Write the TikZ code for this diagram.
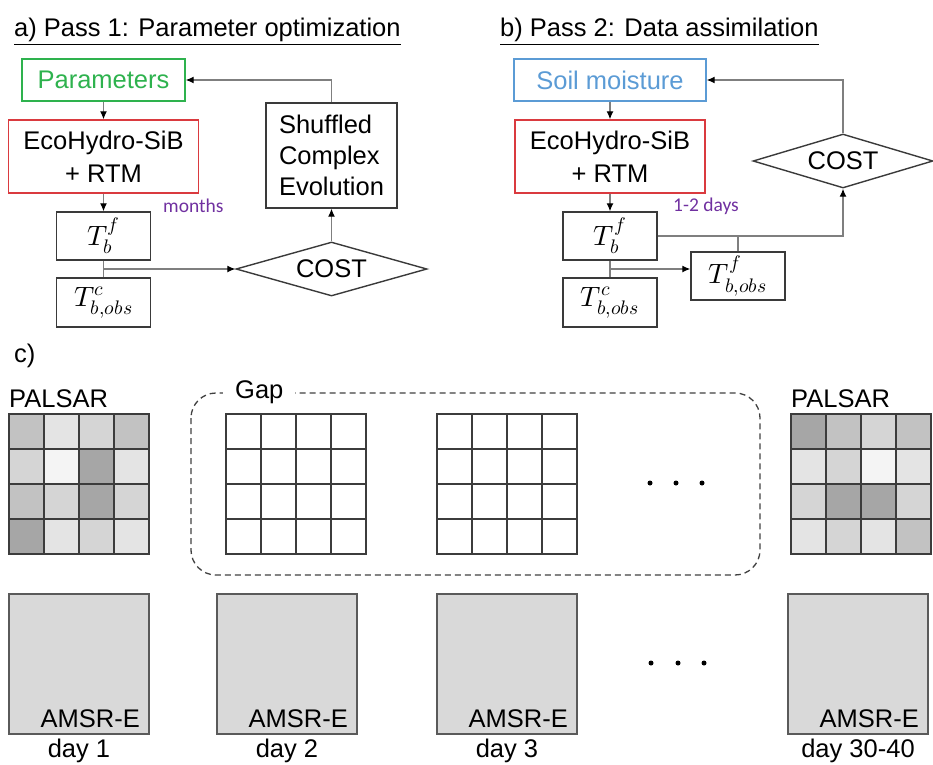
\documentclass[tikz,border=0pt]{standalone}
\usepackage{fontspec}
\usepackage{unicode-math}
\setmainfont{Liberation Sans}
\setmathfont{Latin Modern Math}
\newfontfamily\calfont{Carlito}
\usetikzlibrary{shapes.geometric,arrows.meta}
\begin{document}
\begin{tikzpicture}[x=1pt,y=-1pt,
  txt/.style={font=\fontsize{25.5}{33}\selectfont},
  lab/.style={txt,inner sep=0pt},
  box/.style={draw=boxline,line width=1.4pt,inner sep=0pt,txt},
  mathbox/.style={box,minimum width=94pt,font=\fontsize{28}{31}\selectfont},
  costnode/.style={draw=boxline,line width=1.4pt,shape=diamond,aspect=3.5,inner sep=0pt,
    minimum width=191pt,minimum height=54pt,txt},
  link/.style={draw=linkgray,line width=1.2pt,-{Latex[length=8pt,width=7pt,color=black]}},
  plain/.style={draw=linkgray,line width=1.2pt},
  note/.style={font=\calfont\fontsize{19.5}{23}\selectfont,text=notepurple,inner sep=0pt,anchor=base west},
  cell/.style={draw=gridline,line width=1.2pt},
  gapframe/.style={draw=gapdash,line width=1.3pt,dash pattern=on 6pt off 4pt,rounded corners=25pt},
  amsrbox/.style={draw=amsrline,line width=1.3pt,fill=amsrfill,minimum size=140pt,inner sep=0pt}]
  \definecolor{boxline}{HTML}{3A3A3A}
  \definecolor{linkgray}{HTML}{7F7F7F}
  \definecolor{paramgreen}{HTML}{2EB24E}
  \definecolor{soilblue}{HTML}{5B9BD5}
  \definecolor{modelred}{HTML}{DA3A3F}
  \definecolor{notepurple}{HTML}{7030A0}
  \definecolor{gridline}{HTML}{3C3C3C}
  \definecolor{gapdash}{HTML}{404040}
  \definecolor{amsrfill}{HTML}{D9D9D9}
  \definecolor{amsrline}{HTML}{5A5A5A}
  \definecolor{psA}{HTML}{A6A6A6}
  \definecolor{psB}{HTML}{C2C2C2}
  \definecolor{psC}{HTML}{D5D5D5}
  \definecolor{psD}{HTML}{E4E4E4}
  \definecolor{psE}{HTML}{F4F4F4}
  \useasboundingbox (0,0) rectangle (933,764);

  \node[lab,anchor=base west] (titleA) at (14,36) {\underline{a) Pass 1: Parameter optimization}};
  \node[box,draw=paramgreen,text=paramgreen,minimum width=163pt,minimum height=42pt] (params) at (103.5,80) {Parameters};
  \node[box,draw=modelred,minimum width=190pt,minimum height=73pt,align=center] (ecoA) at (103.5,156.5) {EcoHydro-SiB\\+ RTM};
  \node[mathbox,minimum height=48pt] (tbfA) at (103.5,236) {$T_b^f$};
  \node[mathbox,minimum height=49pt] (tbcA) at (103.5,302.5) {$T_{b,obs}^c$};
  \node[costnode] (costA) at (331.5,269) {COST};
  \node[box,minimum width=131pt,minimum height=105pt,align=left,font=\fontsize{25.5}{31}\selectfont] (sce) at (331.5,155.5) {Shuffled\\Complex\\Evolution};
  \node[note] (monthsA) at (163,212) {months};
  \coordinate (jA) at (103.5,269);
  \draw[link] (params) -- (ecoA);
  \draw[link] (ecoA) -- (tbfA);
  \draw[plain] (tbfA) -- (tbcA);
  \draw[link] (jA) -- (costA.west);
  \draw[link] (costA) -- (sce);
  \draw[link] (sce.north) |- (params.east);

  \node[lab,anchor=base west] (titleB) at (500,36) {\underline{b) Pass 2: Data assimilation}};
  \node[box,draw=soilblue,text=soilblue,minimum width=192pt,minimum height=42pt] (soil) at (610,80) {Soil moisture};
  \node[box,draw=modelred,minimum width=190pt,minimum height=73pt,align=center] (ecoB) at (610,156.5) {EcoHydro-SiB\\+ RTM};
  \node[mathbox,minimum height=48pt] (tbfB) at (610,236) {$T_b^f$};
  \node[mathbox,minimum height=49pt] (tbcB) at (610,302.5) {$T_{b,obs}^c$};
  \node[mathbox,minimum height=48pt] (tbobs) at (738,276) {$T_{b,obs}^f$};
  \node[costnode,minimum width=180pt] (costB) at (843,161) {COST};
  \node[note] (daysB) at (673,211) {1-2 days};
  \coordinate (jB) at (610,269);
  \draw[link] (soil) -- (ecoB);
  \draw[link] (ecoB) -- (tbfB);
  \draw[plain] (tbfB) -- (tbcB);
  \draw[link] (jB) -- (jB -| tbobs.west);
  \draw[link] (tbfB.east) -| (costB.south);
  \draw[plain] (tbobs.north) -- (tbobs.north |- tbfB.east);
  \draw[link] (costB.north) |- (soil.east);

  \node[lab,anchor=base west] (titleC) at (14,362) {c)};
  \draw[gapframe] (191,393) rectangle (760,575);
  \node[lab,anchor=base west,fill=white,inner xsep=12pt,inner ysep=3pt] (gaplabel) at (223,398) {Gap};
  \node[lab,anchor=base west] (palsarL) at (9,407) {PALSAR};
  \node[lab,anchor=base west] (palsarR) at (791,407) {PALSAR};
  \foreach \shade [count=\i from 0] in {psB,psD,psC,psB,psC,psE,psA,psD,psB,psC,psA,psC,psA,psD,psC,psD} {
    \pgfmathtruncatemacro\gcol{mod(\i,4)}
    \pgfmathtruncatemacro\grow{floor(\i/4)}
    \filldraw[cell,fill=\shade] (9+35*\gcol,414+35*\grow) rectangle ++(35,35);
  }
  \foreach \shade [count=\i from 0] in {psA,psB,psC,psB,psD,psC,psE,psD,psC,psA,psA,psC,psD,psC,psD,psB} {
    \pgfmathtruncatemacro\gcol{mod(\i,4)}
    \pgfmathtruncatemacro\grow{floor(\i/4)}
    \filldraw[cell,fill=\shade] (791+35*\gcol,414+35*\grow) rectangle ++(35,35);
  }
  \foreach \gx in {226,437}
    \foreach \i in {0,...,15} {
      \pgfmathtruncatemacro\gcol{mod(\i,4)}
      \pgfmathtruncatemacro\grow{floor(\i/4)}
      \filldraw[cell,fill=white] (\gx+35*\gcol,414+35*\grow) rectangle ++(35,35);
    }
  \foreach \dx in {650,676,702} \fill (\dx,483) circle (2.5);
  \foreach \dx in {651,678,704} \fill (\dx,663) circle (2.5);

  \foreach \bx/\day [count=\k] in {9/day 1,217/day 2,437/day 3,788/day 30-40} {
    \node[amsrbox] (amsr\k) at (\bx+70,664) {};
    \node[lab,anchor=base east] (amsrlab\k) at (\bx+131,727) {AMSR-E};
    \node[lab,anchor=base] (day\k) at (\bx+70,757) {\day};
  }
\end{tikzpicture}
\end{document}
